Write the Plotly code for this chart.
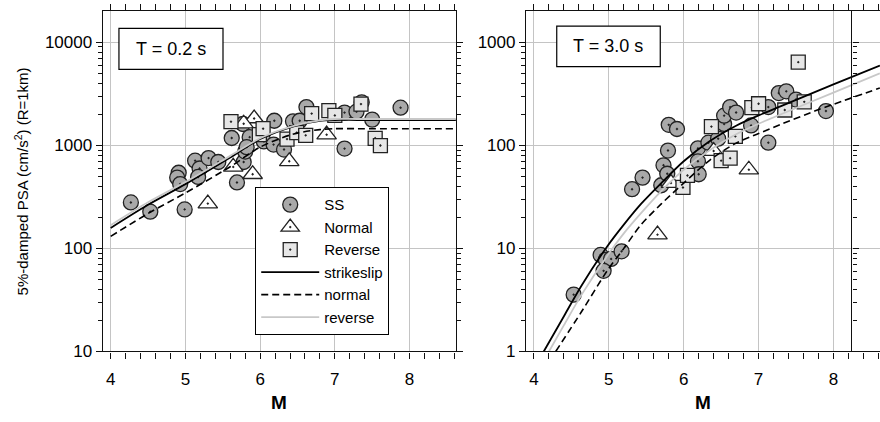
"""Magnitude scaling of PSA at T = 0.2 s and T = 3.0 s."""

import plotly.graph_objects as go

FONT = "Liberation Sans Narrow, Liberation Sans, Arial, sans-serif"
GRID = "#c4c4c4"
AXIS = "#111111"
SS_FILL = "#a9a9a9"
REV_FILL = "#e6e6e6"
EDGE = "#222222"
REV_LINE = "#c8c8c8"

# ---- T = 0.2 s observations ----
ss02_m = [4.27, 4.53, 4.99, 4.91, 4.89, 4.93, 5.13, 5.19, 5.17, 5.31, 5.44, 5.69, 5.62, 5.78,
          5.80, 5.77, 5.86, 5.82, 6.05, 6.19, 6.18, 6.32, 6.44, 6.53, 6.62, 7.13, 7.29, 7.36,
          7.50, 7.88, 7.13]
ss02_v = [279, 227, 239, 542, 486, 421, 710, 596, 493, 752, 689, 436, 1178, 689,
          869, 1610, 1200, 960, 1090, 1730, 1016, 910, 1707, 1730, 2350, 2076, 2120, 2610,
          1775, 2317, 930]
nm02_m = [5.30, 5.64, 5.90, 6.39, 6.89, 5.92, 5.78]
nm02_v = [272, 617, 524, 700, 1268, 1820, 1620]
rv02_m = [5.61, 5.99, 6.04, 6.36, 6.49, 6.61, 6.69, 6.92, 7.00, 7.35, 7.54, 7.61]
rv02_v = [1695, 1267, 1450, 1150, 1330, 1250, 2031, 2170, 1950, 2510, 1170, 995]

# ---- T = 0.2 s model curves ----
fit02_m = [4.0, 4.5, 5.0, 5.6, 6.0, 6.45, 6.8, 7.0, 7.3, 8.62]
fit02_ss = [158, 265, 420, 760, 1150, 1530, 1730, 1760, 1760, 1760]
fit02_nm = [131, 218, 345, 620, 960, 1290, 1420, 1450, 1450, 1450]
fit02_rv = [168, 280, 440, 790, 1170, 1540, 1750, 1800, 1800, 1800]

# ---- T = 3.0 s observations ----
ss30_m = [4.53, 4.89, 4.96, 5.03, 4.93, 5.17, 5.31, 5.45, 5.70, 5.73, 5.78, 5.79, 5.80, 5.91,
          6.19, 6.19, 6.20, 6.33, 6.46, 6.54, 6.54, 6.62, 6.70, 6.90, 7.13, 7.13, 7.27, 7.37,
          7.50, 7.90]
ss30_v = [3.56, 8.64, 7.75, 7.9, 6.06, 9.36, 37.5, 48.6, 41, 64, 53, 89, 158, 144,
          93.5, 70, 52.4, 106, 116, 161, 194, 235, 208, 156, 235, 106, 321, 334,
          278, 215]
nm30_m = [5.65, 5.83, 6.40, 6.87]
nm30_v = [13.6, 43, 88, 58]
rv30_m = [5.99, 6.05, 6.37, 6.50, 6.62, 6.69, 6.91, 7.00, 7.35, 7.53, 7.61]
rv30_v = [39, 51, 152, 71, 75, 122, 232, 253, 220, 641, 264]

# ---- T = 3.0 s model curves ----
fit30_ss_m = [4.13, 4.40, 4.63, 4.98, 5.20, 5.43, 5.70, 6.00, 6.35, 6.70, 7.00, 7.30, 8.00, 8.62]
fit30_ss = [1.0, 2.2, 4.3, 10.5, 17, 27, 43, 70, 110, 155, 195, 240, 390, 595]
fit30_rv_m = [4.20, 4.40, 4.63, 4.98, 5.20, 5.43, 5.70, 6.00, 6.35, 6.70, 7.00, 7.30, 8.00, 8.62]
fit30_rv = [1.0, 1.8, 3.5, 8.5, 14, 22, 36, 58, 90, 128, 162, 200, 325, 500]
fit30_nm_m = [4.29, 4.63, 4.98, 5.20, 5.43, 5.70, 6.00, 6.35, 6.70, 7.00, 7.30, 7.75, 8.00, 8.62]
fit30_nm = [1.0, 2.4, 6.1, 10, 17, 27, 43, 72, 105, 130, 160, 215, 250, 360]

X_RANGE = [3.893, 8.622]


def marker(symbol, fill, size):
    return dict(symbol=symbol, color=fill, size=size, line=dict(color=EDGE, width=1.3))


def add_panel(fig, xa, ya, ss, nm, rv, fits, legend):
    fig.add_trace(go.Scatter(x=ss[0], y=ss[1], mode="markers", name="SS", xaxis=xa, yaxis=ya,
                             marker=marker("circle-dot", SS_FILL, 15), showlegend=legend))
    fig.add_trace(go.Scatter(x=nm[0], y=nm[1], mode="markers", name="Normal", xaxis=xa, yaxis=ya,
                             marker=marker("triangle-up-dot", "white", 17), showlegend=legend))
    fig.add_trace(go.Scatter(x=rv[0], y=rv[1], mode="markers", name="Reverse", xaxis=xa, yaxis=ya,
                             marker=marker("square-dot", REV_FILL, 14), showlegend=legend))
    styles = [("strikeslip", dict(color="black", width=1.8)),
              ("normal", dict(color="black", width=1.6, dash="7px,4px")),
              ("reverse", dict(color=REV_LINE, width=1.8))]
    for (name, line), (fx, fy) in zip(styles, fits):
        fig.add_trace(go.Scatter(x=fx, y=fy, mode="lines", name=name, xaxis=xa, yaxis=ya,
                                 line=dict(shape="spline", smoothing=0.8, **line),
                                 showlegend=legend))


fig = go.Figure()
add_panel(fig, "x", "y", (ss02_m, ss02_v), (nm02_m, nm02_v), (rv02_m, rv02_v),
          [(fit02_m, fit02_ss), (fit02_m, fit02_nm), (fit02_m, fit02_rv)], True)
add_panel(fig, "x2", "y2", (ss30_m, ss30_v), (nm30_m, nm30_v), (rv30_m, rv30_v),
          [(fit30_ss_m, fit30_ss), (fit30_nm_m, fit30_nm), (fit30_rv_m, fit30_rv)], False)
# carrier for the inner right-hand axis of the T = 3.0 s panel
fig.add_trace(go.Scatter(x=[None], y=[None], xaxis="x2", yaxis="y3", showlegend=False,
                         hoverinfo="skip"))

x_common = dict(
    range=X_RANGE, dtick=1, tick0=4, showgrid=True, gridcolor=GRID, gridwidth=1.2,
    showline=True, linecolor=AXIS, linewidth=1.2, ticks="outside", ticklen=6,
    tickcolor=AXIS, mirror="ticks", zeroline=False, ticklabelstandoff=6,
    minor=dict(ticks="outside", dtick=0.2, ticklen=6, tickcolor=AXIS, showgrid=False),
    tickfont=dict(size=17),
)
y_common = dict(
    type="log", dtick=1, showgrid=True, gridcolor=GRID, gridwidth=1.2, tickformat="d",
    showline=True, linecolor=AXIS, linewidth=1.2, ticks="outside", ticklen=6,
    tickcolor=AXIS, zeroline=False, domain=[0.1469, 0.9723],
    minor=dict(ticks="outside", dtick="D1", ticklen=4, tickcolor=AXIS, showgrid=False),
    tickfont=dict(size=17),
)

fig.update_layout(
    width=880,
    height=422,
    paper_bgcolor="white",
    plot_bgcolor="white",
    font=dict(family=FONT, color="black", size=16),
    margin=dict(l=0, r=0, t=0, b=0),
    xaxis=dict(domain=[0.1167, 0.5182], anchor="y", **x_common),
    yaxis=dict(range=[1, 4.299], anchor="x", mirror="ticks", **y_common),
    xaxis2=dict(domain=[0.5977, 1.0], anchor="y2", **x_common),
    yaxis2=dict(range=[0, 3.299], anchor="x2", mirror=False, **y_common),
    yaxis3=dict(type="log", range=[0, 3.299], overlaying="y2", anchor="free", position=0.9676,
                side="right", showgrid=False, showline=True, linecolor=AXIS, linewidth=1.2,
                ticks="outside", ticklen=6, tickcolor=AXIS, showticklabels=False, dtick=1,
                zeroline=False,
                minor=dict(ticks="outside", dtick="D1", ticklen=4, tickcolor=AXIS)),
    legend=dict(x=0.2898, y=0.5457, xanchor="left", yanchor="top", bgcolor="white",
                bordercolor="black", borderwidth=1.2, font=dict(size=15), tracegroupgap=0,
                itemsizing="trace", itemwidth=58),
    showlegend=True,
)

# period labels in boxes
for xr, yr, (x0, x1, y0, y1), label in [
    ("x domain", "y domain", (0.046, 0.3405, 0.8298, 0.9503), "T = 0.2 s"),
    ("x2 domain", "y2 domain", (0.0869, 0.3793, 0.8375, 0.957), "T = 3.0 s"),
]:
    fig.add_shape(type="rect", xref=xr, yref=yr, x0=x0, x1=x1, y0=y0, y1=y1,
                  line=dict(color="black", width=1.2), fillcolor="white", layer="above")
    fig.add_annotation(xref=xr, yref=yr, x=(x0 + x1) / 2, y=(y0 + y1) / 2, text=label,
                       xanchor="center", yanchor="middle", showarrow=False,
                       font=dict(size=18))

# axis titles
for xr in ["x domain", "x2 domain"]:
    fig.add_annotation(xref=xr, yref="paper", x=0.5, y=0.022, text="<b>M</b>",
                       xanchor="center", yanchor="middle", showarrow=False,
                       font=dict(size=19))
fig.add_annotation(xref="paper", yref="paper", x=0.024, y=0.56, textangle=-90,
                   xanchor="center", yanchor="middle",
                   text="5%-damped PSA (cm/s<sup>2</sup>) (R=1km)", showarrow=False,
                   font=dict(size=15))

fig.write_html("out.html", config={"displayModeBar": False},
               post_script="document.body.style.margin = '0px';")
